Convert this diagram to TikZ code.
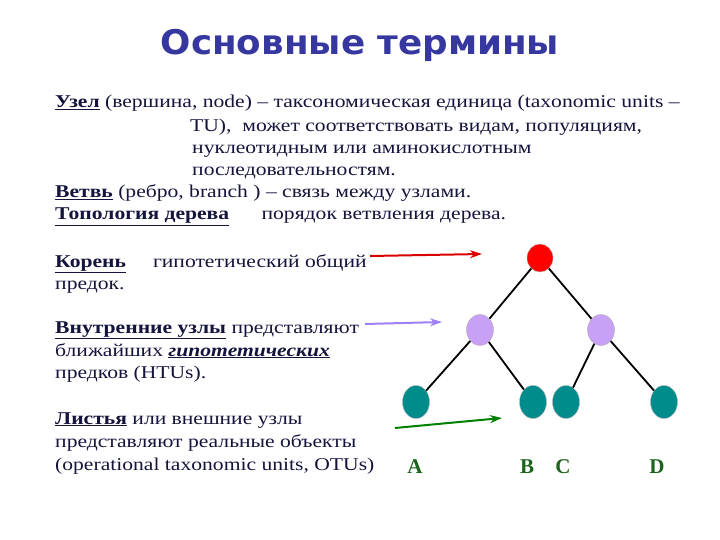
\documentclass[tikz,border=0pt]{standalone}
\usepackage{fontspec}
\setmainfont{Liberation Serif}
\newfontfamily\titlefont{DejaVu Sans}
\usetikzlibrary{arrows.meta,shapes.geometric}
\definecolor{titleblue}{RGB}{55,55,160}
\definecolor{txt}{RGB}{20,20,60}
\definecolor{leaf}{RGB}{0,140,140}
\definecolor{htu}{RGB}{200,160,245}
\definecolor{lbl}{RGB}{30,100,30}
\newcommand{\wide}[1]{\scalebox{1.2}[1]{#1}}
\begin{document}
\begin{tikzpicture}[x=1pt,y=-1pt,
  ln/.style={anchor=base west,inner sep=0pt,font=\fontsize{18}{18}\selectfont,text=txt},
  tn/.style={ellipse,draw=gray!60,minimum width=27pt,inner sep=0pt},
  lab/.style={anchor=base,inner sep=0pt,font=\fontsize{21}{21}\selectfont\bfseries,text=lbl},
  edge/.style={line width=1.8pt},
  arr/.style={line width=2pt,-{Stealth[length=12pt,width=8pt]}}]
\useasboundingbox[fill=white] (0,0) rectangle (720,540);
\node[inner sep=0pt,text=titleblue,font=\titlefont\bfseries\fontsize{34}{34}\selectfont] (title) at (360,45) {\scalebox{1.05}[1]{Основные термины}};
\node[ln] (l1) at (55,108) {\wide{\textbf{\underline{Узел}} (вершина, node) -- таксономическая единица (taxonomic units --}};
\node[ln] (l2) at (190,132) {\wide{TU),\ \ может соответствовать видам, популяциям,}};
\node[ln] (l3) at (192,154) {\wide{нуклеотидным или аминокислотным}};
\node[ln] (l4) at (192,176) {\wide{последовательностям.}};
\node[ln] (l5) at (55,198) {\wide{\textbf{\underline{Ветвь}} (ребро, branch ) -- связь между узлами.}};
\node[ln] (l6) at (55,220) {\wide{\textbf{\underline{Топология дерева}}\quad\ \ порядок ветвления дерева.}};
\node[ln] (k1) at (55,267) {\wide{\textbf{\underline{Корень}}\quad\ гипотетический общий}};
\node[ln] (k2) at (55,289) {\wide{предок.}};
\node[ln] (v1) at (55,333) {\wide{\textbf{\underline{Внутренние узлы}} представляют}};
\node[ln] (v2) at (55,356) {\wide{ближайших \textbf{\textit{\underline{гипотетических}}}}};
\node[ln] (v3) at (55,378) {\wide{предков (HTUs).}};
\node[ln] (s1) at (55,424) {\wide{\textbf{\underline{Листья}} или внешние узлы}};
\node[ln] (s2) at (55,447) {\wide{представляют реальные объекты}};
\node[ln] (s3) at (55,470) {\wide{(operational taxonomic units, OTUs)}};
\node[tn,fill=red,minimum width=26pt,minimum height=28pt] (r) at (540,258) {};
\node[tn,fill=htu,minimum height=31pt] (h1) at (480,330) {};
\node[tn,fill=htu,minimum height=31pt] (h2) at (601,330) {};
\node[tn,fill=leaf,minimum height=33pt] (a) at (416,402) {};
\node[tn,fill=leaf,minimum height=33pt] (b) at (533,402) {};
\node[tn,fill=leaf,minimum height=33pt] (c) at (566,402) {};
\node[tn,fill=leaf,minimum height=33pt] (d) at (664,402) {};
\draw[edge] (r) -- (h1); \draw[edge] (r) -- (h2);
\draw[edge] (h1) -- (a); \draw[edge] (h1) -- (b);
\draw[edge] (h2) -- (c); \draw[edge] (h2) -- (d);
\node[lab] (la) at (415,473) {A};
\node[lab] (lb) at (527,473) {B};
\node[lab] (lc) at (563,473) {C};
\node[lab] (ld) at (657,473) {D};
\coordinate (ra) at (370,256); \coordinate (rb) at (482,254);
\coordinate (pa) at (365,324); \coordinate (pb) at (442,322);
\coordinate (ga) at (395,428); \coordinate (gb) at (502,418);
\draw[arr,draw=red!85!black] (ra) -- (rb);
\draw[arr,draw=htu!80!blue] (pa) -- (pb);
\draw[arr,draw=green!50!black] (ga) -- (gb);
\end{tikzpicture}
\end{document}
